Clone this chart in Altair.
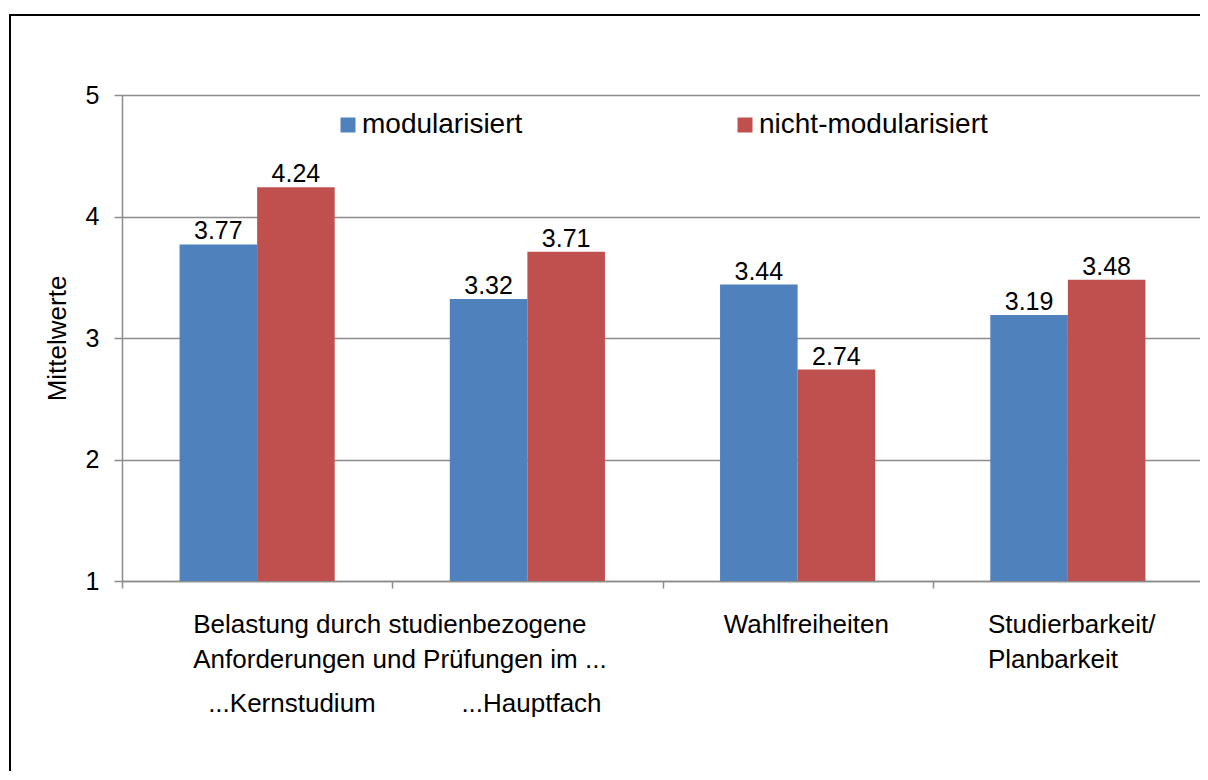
import altair as alt
import pandas as pd

# ---------------- data ----------------
categories = ["Kernstudium", "Hauptfach", "Wahlfreiheiten", "Studierbarkeit"]
series = ["modularisiert", "nicht-modularisiert"]
modularisiert = [3.77, 3.32, 3.44, 3.19]
nicht_modularisiert = [4.24, 3.71, 2.74, 3.48]
colors = ["#4F81BD", "#C0504D"]
y_ticks = [1, 2, 3, 4, 5]
y_title = "Mittelwerte"

# category label texts (text, anchor category, band position, dx, baseline y in px below plot top)
label_texts = [
    "Belastung durch studienbezogene",
    "Anforderungen und Prüfungen im ...",
    "...Kernstudium",
    "...Hauptfach",
    "Wahlfreiheiten",
    "Studierbarkeit/",
    "Planbarkeit",
]
label_anchor = ["Hauptfach", "Hauptfach", "Kernstudium", "Hauptfach",
                "Wahlfreiheiten", "Studierbarkeit", "Studierbarkeit"]
label_band = [0, 0, 0.5, 0.5, 0.5, 0.5, 0.5]
label_dx = [-199, -199, -49, -66, -74, -80, -80]
label_y = [538, 573, 617, 617, 538, 538, 573]

# ---------------- layout ----------------
W, H = 1081, 486
FONT = "Liberation Sans"
FS = 25
FS_CAT = 26
FS_LEG = 28
GRAY = "#8c8c8c"

rows = []
for c, a, b in zip(categories, modularisiert, nicht_modularisiert):
    rows.append({"cat": c, "series": series[0], "value": a})
    rows.append({"cat": c, "series": series[1], "value": b})
df = pd.DataFrame(rows)

x_scale = alt.Scale(domain=categories, paddingInner=0, paddingOuter=0)
y_scale = alt.Scale(domain=[1, 5], nice=False, zero=False)
xo_scale = alt.Scale(domain=series, paddingOuter=0.742, paddingInner=0)

x_axis = alt.Axis(title=None, labels=False, tickBand="extent", grid=False,
                  domainColor=GRAY, domainWidth=1.5, tickColor=GRAY,
                  tickWidth=1.5, tickSize=7)
y_axis = alt.Axis(values=y_ticks, format="d", grid=True, gridColor=GRAY,
                  gridWidth=1.5, domainColor=GRAY, domainWidth=1.5,
                  tickColor=GRAY, tickWidth=1.5, tickSize=8,
                  labelFontSize=FS, labelPadding=15, labelColor="black",
                  labelFont=FONT,
                  title=y_title, titleFontSize=26, titleFontWeight="normal",
                  titleColor="black", titleFont=FONT, titleAngle=270,
                  titleX=-65, titleY=H / 2, titleAlign="center",
                  titleBaseline="middle")

bars = alt.Chart(df).mark_bar().encode(
    x=alt.X("cat:N", scale=x_scale, sort=categories, axis=x_axis),
    xOffset=alt.XOffset("series:N", scale=xo_scale, sort=series),
    y=alt.Y("value:Q", scale=y_scale, axis=y_axis),
    y2=alt.datum(1),
    color=alt.Color("series:N", sort=series,
                    scale=alt.Scale(domain=series, range=colors),
                    legend=alt.Legend(orient="none", legendX=212, legendY=16,
                                      direction="horizontal", title=None,
                                      symbolType="square", symbolSize=225,
                                      symbolStrokeWidth=0, labelFontSize=FS_LEG,
                                      labelFont=FONT, labelColor="black",
                                      labelOffset=0, columnPadding=208,
                                      labelLimit=0, padding=0)),
)

values = alt.Chart(df).mark_text(
    baseline="alphabetic", dy=-5, fontSize=FS, font=FONT, color="black"
).encode(
    x=alt.X("cat:N", scale=x_scale, sort=categories, axis=x_axis),
    xOffset=alt.XOffset("series:N", scale=xo_scale, sort=series),
    y=alt.Y("value:Q", scale=y_scale, axis=y_axis),
    text=alt.Text("value:Q", format=".2f"),
)

label_layers = []
for t, a, b, dx, yy in zip(label_texts, label_anchor, label_band, label_dx, label_y):
    label_layers.append(
        alt.Chart(pd.DataFrame({"cat": [a], "t": [t]})).mark_text(
            align="left", baseline="alphabetic", dx=dx, fontSize=FS_CAT, font=FONT,
            color="black"
        ).encode(
            x=alt.X("cat:N", scale=x_scale, sort=categories, axis=x_axis, bandPosition=b),
            y=alt.value(yy),
            text="t:N",
        )
    )

# outer frame: top and left borders (right and bottom lie outside the picture)
frame_top = alt.Chart(pd.DataFrame({"a": [0]})).mark_rule(
    color="black", strokeWidth=2
).encode(x=alt.value(-113), x2=alt.value(1200), y=alt.value(-80))
frame_left = alt.Chart(pd.DataFrame({"a": [0]})).mark_rule(
    color="black", strokeWidth=2
).encode(x=alt.value(-112), y=alt.value(-81), y2=alt.value(900))

chart = alt.layer(bars, values, *label_layers, frame_top, frame_left).properties(
    width=W, height=H,
    autosize=alt.AutoSizeParams(type="none"),
    padding={"left": 114, "top": 87, "right": -3, "bottom": 190},
).configure(font=FONT).configure_view(stroke=None)

chart.save("out.html", embed_options={"renderer": "svg", "actions": False})
